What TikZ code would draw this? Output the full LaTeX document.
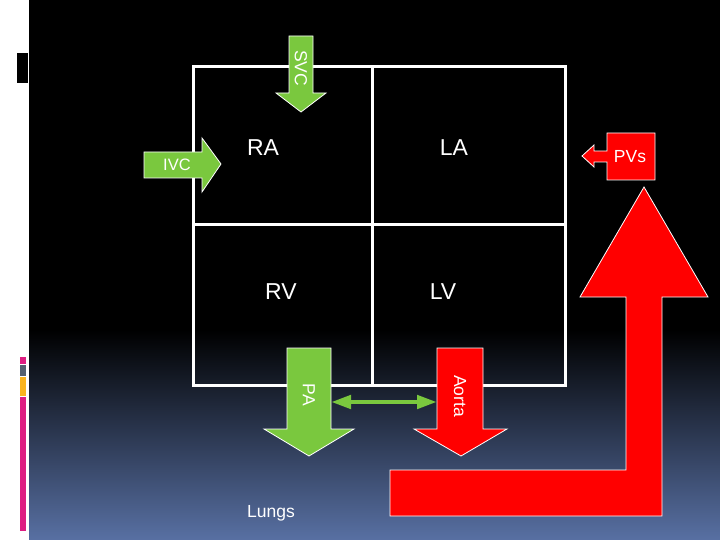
\documentclass[tikz,border=0pt]{standalone}
\usepackage{fontspec}
\setmainfont{Liberation Sans}
\usetikzlibrary{arrows.meta}
\definecolor{ogreen}{RGB}{122,200,62}
\definecolor{bgblue}{RGB}{88,112,163}
\definecolor{mag}{RGB}{222,30,130}
\definecolor{slate}{RGB}{84,96,112}
\definecolor{gold}{RGB}{250,180,30}
\tikzset{
  greenshape/.style={fill=ogreen, draw=white, line width=0.8pt, line join=miter},
  redshape/.style={fill=red, draw=white, line width=0.8pt, line join=miter},
  wall/.style={draw=white, line width=3pt},
  chamber/.style={text=white, font=\fontsize{23}{25}\selectfont, inner sep=0pt},
  lbl/.style={text=white, font=\fontsize{17.5}{19}\selectfont, inner sep=0pt},
}
\begin{document}
\begin{tikzpicture}[x=1pt,y=-1pt]
\useasboundingbox (0,0) rectangle (720,540);
% background
\fill[white] (0,0) rectangle (29,540);
\fill[black] (29,0) rectangle (720,331);
\shade[top color=black, bottom color=bgblue] (29,330) rectangle (720,540);
\fill[black] (17,53) rectangle (28,83);
\fill[mag] (20,357) rectangle (26,364);
\fill[slate] (20,365) rectangle (26,376);
\fill[gold] (20,377) rectangle (26,396);
\fill[mag] (20,397) rectangle (26,531);
% heart grid
\draw[wall] (193,67) rectangle (565,385);
\draw[wall] (372,67) -- (372,385);
\draw[wall] (193,225) -- (565,225);
% SVC arrow
\draw[greenshape] (289,36) -- (313,36) -- (313,93) -- (326,93) -- (301,112) -- (276,93) -- (289,93) -- cycle;
\node[lbl, rotate=-90] (svc) at (301,68) {SVC};
% IVC arrow
\draw[greenshape] (144,152) -- (202,152) -- (202,138) -- (221,164) -- (202,192) -- (202,178) -- (144,178) -- cycle;
\node[lbl, font=\fontsize{16.5}{18}\selectfont] (ivc) at (177,165) {IVC};
% chambers
\node[chamber] (ra) at (263,148) {RA};
\node[chamber] (la) at (454,148) {LA};
\node[chamber] (rv) at (281,292) {RV};
\node[chamber] (lv) at (443,292) {LV};
% PA arrow
\draw[greenshape] (287,348) -- (331,348) -- (331,429) -- (354,429) -- (309,456) -- (264,429) -- (287,429) -- cycle;
\node[lbl, rotate=-90] (pa) at (309,395) {PA};
% Aorta arrow
\draw[redshape] (437,348) -- (483,348) -- (483,429) -- (507,429) -- (461,456) -- (414,429) -- (437,429) -- cycle;
\node[lbl, rotate=-90] (aorta) at (460,396) {Aorta};
% connector between PA and Aorta
\coordinate (paR) at (331,402);
\coordinate (aoL) at (437,402);
\draw[ogreen, line width=4.5pt, {Triangle[length=20pt,width=13pt]}-{Triangle[length=20pt,width=13pt]}] (paR) -- (aoL);
% systemic return (big red arrow)
\draw[redshape] (390,470) -- (626,470) -- (626,297) -- (580,297) -- (644,187) -- (708,297) -- (662,297) -- (662,516) -- (390,516) -- cycle;
% PVs callout
\draw[redshape] (655,133) -- (655,180) -- (607,180) -- (607,162) -- (594,162) -- (594,167) -- (582,156) -- (594,145) -- (594,151) -- (607,151) -- (607,133) -- cycle;
\node[lbl] (pvs) at (630,157) {PVs};
% Lungs
\node[lbl] (lungs) at (271,513) {Lungs};
\end{tikzpicture}
\end{document}
